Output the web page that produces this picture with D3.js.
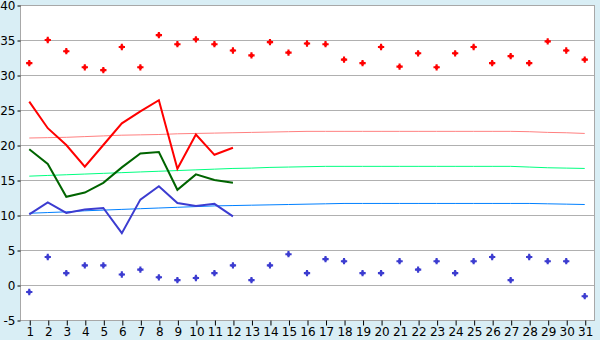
<!DOCTYPE html>
<html lang="en">
<head>
<meta charset="UTF-8">
<title>Daily temperatures</title>
<script src="https://d3js.org/d3.v7.min.js"></script>
<style>
    body { margin: 0; background: #d9eef5; }
    svg { display: block; }
    .tick text { font-family: "DejaVu Sans", Verdana, sans-serif; font-size: 12px; fill: #000; }
</style>
</head>
<body>
<script>
    // data
    var days = d3.range(1, 32)
    var yTicks = [-5, 0, 5, 10, 15, 20, 25, 30, 35, 40]

    var maxPoints = [31.7, 35.0, 33.4, 31.1, 30.7, 34.0, 31.1, 35.7, 34.4, 35.1, 34.4, 33.5, 32.8, 34.7, 33.2, 34.5,
                     34.4, 32.2, 31.7, 34.0, 31.2, 33.1, 31.1, 33.1, 34.0, 31.7, 32.7, 31.7, 34.8, 33.5, 32.2]
    var minPoints = [-1.0, 4.0, 1.7, 2.8, 2.8, 1.5, 2.2, 1.1, 0.7, 1.0, 1.7, 2.8, 0.7, 2.8, 4.4, 1.7,
                     3.7, 3.4, 1.7, 1.7, 3.4, 2.2, 3.4, 1.7, 3.4, 4.0, 0.7, 4.0, 3.4, 3.4, -1.6]

    var maxLine = [26.2, 22.4, 20.0, 16.9, 20.0, 23.1, 24.8, 26.4, 16.6, 21.5, 18.6, 19.6]
    var meanLine = [19.4, 17.3, 12.6, 13.2, 14.6, 16.8, 18.8, 19.0, 13.6, 15.8, 15.0, 14.6]
    var minLine = [10.1, 11.8, 10.3, 10.8, 11.0, 7.4, 12.2, 14.1, 11.7, 11.3, 11.6, 9.8]

    var maxNormal = [21.0, 21.05, 21.1, 21.2, 21.3, 21.4, 21.45, 21.5, 21.6, 21.65, 21.7, 21.75, 21.8, 21.85, 21.9, 21.95,
                     21.95, 21.95, 21.95, 21.95, 21.95, 21.95, 21.95, 21.95, 21.95, 21.95, 21.95, 21.9, 21.8, 21.75, 21.65]
    var meanNormal = [15.55, 15.65, 15.75, 15.85, 15.95, 16.05, 16.15, 16.25, 16.35, 16.45, 16.55, 16.65, 16.7, 16.8, 16.85, 16.9,
                      16.95, 16.95, 16.95, 16.95, 16.95, 16.95, 16.95, 16.95, 16.95, 16.95, 16.95, 16.85, 16.75, 16.7, 16.65]
    var minNormal = [10.25, 10.35, 10.45, 10.6, 10.7, 10.8, 10.9, 11.0, 11.1, 11.2, 11.3, 11.35, 11.4, 11.45, 11.5, 11.55,
                     11.6, 11.65, 11.65, 11.65, 11.65, 11.65, 11.65, 11.65, 11.65, 11.65, 11.65, 11.65, 11.6, 11.55, 11.5]

    var w = 600, h = 340
    var pLeft = 20, pRight = 594, pTop = 5, pBottom = 320

    var svg = d3.select('body').append('svg')
        .attr('width', w)
        .attr('height', h)

    var x = d3.scalePoint().domain(days).range([pLeft, pRight]).padding(0.5)
    var y = d3.scaleLinear().domain([-5, 40]).range([pBottom, pTop])

    // plot area
    svg.append('rect')
        .attr('x', pLeft).attr('y', pTop)
        .attr('width', pRight - pLeft).attr('height', pBottom - pTop)
        .attr('fill', '#fff')

    // grid
    svg.append('g').selectAll('line')
        .data(yTicks)
        .enter().append('line')
        .attr('x1', pLeft).attr('x2', pRight)
        .attr('y1', d => Math.round(y(d)) + 0.5).attr('y2', d => Math.round(y(d)) + 0.5)
        .attr('stroke', '#b0b0b0')

    svg.append('rect')
        .attr('x', pLeft + 0.5).attr('y', pTop + 0.5)
        .attr('width', pRight - pLeft).attr('height', pBottom - pTop)
        .attr('fill', 'none')
        .attr('stroke', '#a8a8a8')

    // axes
    var yAxis = svg.append('g')
        .attr('transform', 'translate(' + (pLeft + 0.5) + ',0.5)')
        .call(d3.axisLeft(y).tickValues(yTicks).tickSize(3).tickPadding(2).tickFormat(d => String(d)))
    yAxis.select('.domain').remove()
    yAxis.selectAll('.tick line').attr('stroke', '#000')

    var xAxis = svg.append('g')
        .attr('transform', 'translate(0.5,' + (pBottom + 0.5) + ')')
        .call(d3.axisBottom(x).tickSize(5).tickPadding(2))
    xAxis.select('.domain').remove()
    xAxis.selectAll('.tick line').attr('stroke', '#000')

    function drawLine(values, color, width) {
        var line = d3.line()
            .x((d, i) => x(days[i]))
            .y(d => y(d))
        svg.append('path')
            .datum(values)
            .attr('fill', 'none')
            .attr('stroke', color)
            .attr('stroke-width', width)
            .attr('d', line)
    }

    // normals
    drawLine(maxNormal, '#ff8080', 1)
    drawLine(meanNormal, '#00ff80', 1)
    drawLine(minNormal, '#0080ff', 1)

    // daily values
    drawLine(maxLine, '#ff0000', 2)
    drawLine(meanLine, '#006400', 2)
    drawLine(minLine, '#3c3cd0', 2)

    function drawPoints(values, color) {
        var g = svg.append('g').selectAll('g')
            .data(values)
            .enter().append('g')
            .attr('transform', (d, i) => 'translate(' + x(days[i]) + ',' + y(d) + ')')
        g.append('path')
            .attr('d', d3.symbol().type(d3.symbolCross).size(22))
            .attr('fill', color)
        g.append('path')
            .attr('d', d3.symbol().type(d3.symbolSquare).size(10))
            .attr('fill', color)
    }

    drawPoints(maxPoints, '#ff0000')
    drawPoints(minPoints, '#3c3cd0')
</script>
</body>
</html>
